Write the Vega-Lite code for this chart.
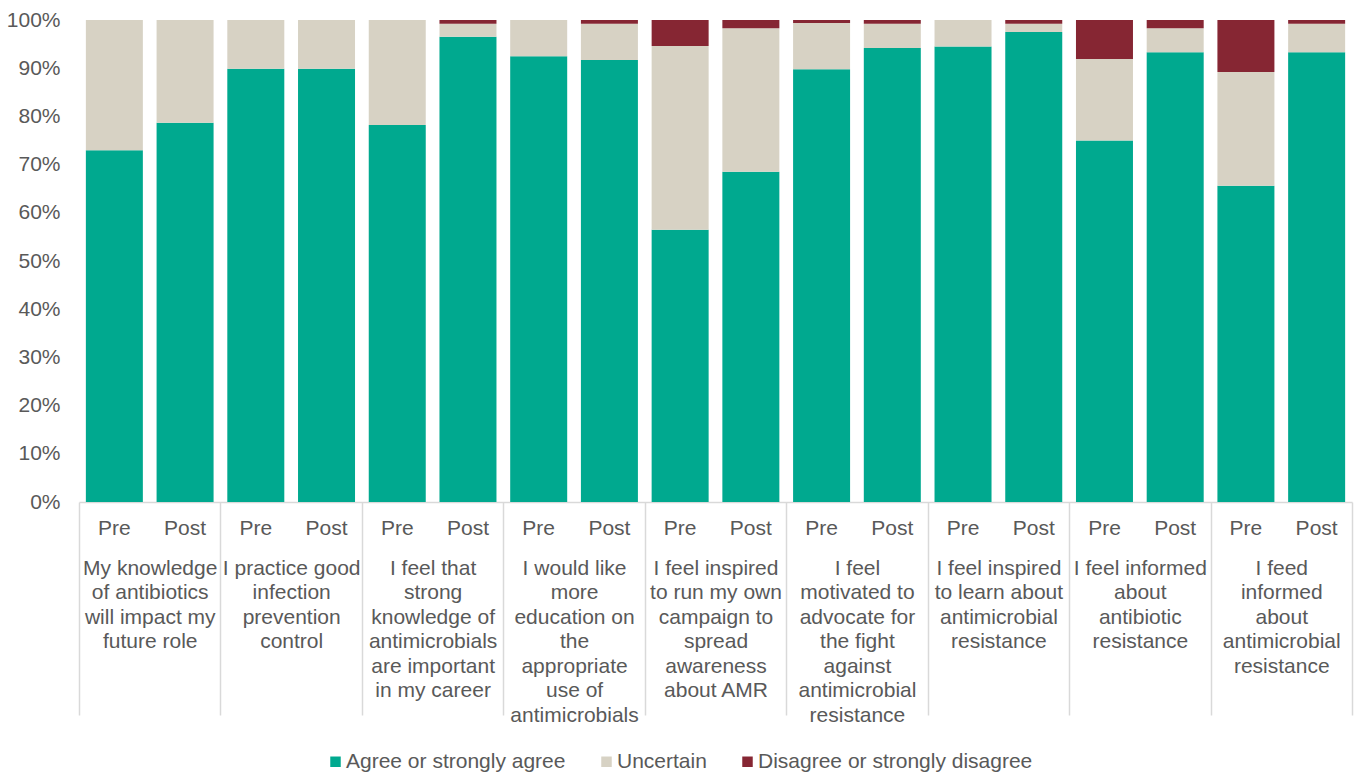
{
  "$schema": "https://vega.github.io/schema/vega-lite/v6.json",
  "width": 1273,
  "height": 482,
  "autosize": {"type": "none"},
  "padding": {"left": 79, "top": 20, "right": 5, "bottom": 272},
  "background": "white",
  "config": {
    "view": {"stroke": null},
    "font": "Liberation Sans"
  },
  "data": {
    "values": [
      {"statement": "My knowledge|of antibiotics|will impact my|future role", "period": "Pre", "response": "Agree or strongly agree", "percent": 73.0},
      {"statement": "My knowledge|of antibiotics|will impact my|future role", "period": "Pre", "response": "Uncertain", "percent": 27.0},
      {"statement": "My knowledge|of antibiotics|will impact my|future role", "period": "Pre", "response": "Disagree or strongly disagree", "percent": 0},
      {"statement": "My knowledge|of antibiotics|will impact my|future role", "period": "Post", "response": "Agree or strongly agree", "percent": 78.7},
      {"statement": "My knowledge|of antibiotics|will impact my|future role", "period": "Post", "response": "Uncertain", "percent": 21.3},
      {"statement": "My knowledge|of antibiotics|will impact my|future role", "period": "Post", "response": "Disagree or strongly disagree", "percent": 0},

      {"statement": "I practice good|infection|prevention|control", "period": "Pre", "response": "Agree or strongly agree", "percent": 89.9},
      {"statement": "I practice good|infection|prevention|control", "period": "Pre", "response": "Uncertain", "percent": 10.1},
      {"statement": "I practice good|infection|prevention|control", "period": "Pre", "response": "Disagree or strongly disagree", "percent": 0},
      {"statement": "I practice good|infection|prevention|control", "period": "Post", "response": "Agree or strongly agree", "percent": 89.9},
      {"statement": "I practice good|infection|prevention|control", "period": "Post", "response": "Uncertain", "percent": 10.1},
      {"statement": "I practice good|infection|prevention|control", "period": "Post", "response": "Disagree or strongly disagree", "percent": 0},

      {"statement": "I feel that|strong|knowledge of|antimicrobials|are important|in my career", "period": "Pre", "response": "Agree or strongly agree", "percent": 78.2},
      {"statement": "I feel that|strong|knowledge of|antimicrobials|are important|in my career", "period": "Pre", "response": "Uncertain", "percent": 21.8},
      {"statement": "I feel that|strong|knowledge of|antimicrobials|are important|in my career", "period": "Pre", "response": "Disagree or strongly disagree", "percent": 0},
      {"statement": "I feel that|strong|knowledge of|antimicrobials|are important|in my career", "period": "Post", "response": "Agree or strongly agree", "percent": 96.5},
      {"statement": "I feel that|strong|knowledge of|antimicrobials|are important|in my career", "period": "Post", "response": "Uncertain", "percent": 2.7},
      {"statement": "I feel that|strong|knowledge of|antimicrobials|are important|in my career", "period": "Post", "response": "Disagree or strongly disagree", "percent": 0.8},

      {"statement": "I would like|more|education on|the|appropriate|use of|antimicrobials", "period": "Pre", "response": "Agree or strongly agree", "percent": 92.5},
      {"statement": "I would like|more|education on|the|appropriate|use of|antimicrobials", "period": "Pre", "response": "Uncertain", "percent": 7.5},
      {"statement": "I would like|more|education on|the|appropriate|use of|antimicrobials", "period": "Pre", "response": "Disagree or strongly disagree", "percent": 0},
      {"statement": "I would like|more|education on|the|appropriate|use of|antimicrobials", "period": "Post", "response": "Agree or strongly agree", "percent": 91.7},
      {"statement": "I would like|more|education on|the|appropriate|use of|antimicrobials", "period": "Post", "response": "Uncertain", "percent": 7.5},
      {"statement": "I would like|more|education on|the|appropriate|use of|antimicrobials", "period": "Post", "response": "Disagree or strongly disagree", "percent": 0.8},

      {"statement": "I feel inspired|to run my own|campaign to|spread|awareness|about AMR", "period": "Pre", "response": "Agree or strongly agree", "percent": 56.5},
      {"statement": "I feel inspired|to run my own|campaign to|spread|awareness|about AMR", "period": "Pre", "response": "Uncertain", "percent": 38.1},
      {"statement": "I feel inspired|to run my own|campaign to|spread|awareness|about AMR", "period": "Pre", "response": "Disagree or strongly disagree", "percent": 5.4},
      {"statement": "I feel inspired|to run my own|campaign to|spread|awareness|about AMR", "period": "Post", "response": "Agree or strongly agree", "percent": 68.5},
      {"statement": "I feel inspired|to run my own|campaign to|spread|awareness|about AMR", "period": "Post", "response": "Uncertain", "percent": 29.8},
      {"statement": "I feel inspired|to run my own|campaign to|spread|awareness|about AMR", "period": "Post", "response": "Disagree or strongly disagree", "percent": 1.7},

      {"statement": "I feel|motivated to|advocate for|the fight|against|antimicrobial|resistance", "period": "Pre", "response": "Agree or strongly agree", "percent": 89.8},
      {"statement": "I feel|motivated to|advocate for|the fight|against|antimicrobial|resistance", "period": "Pre", "response": "Uncertain", "percent": 9.6},
      {"statement": "I feel|motivated to|advocate for|the fight|against|antimicrobial|resistance", "period": "Pre", "response": "Disagree or strongly disagree", "percent": 0.6},
      {"statement": "I feel|motivated to|advocate for|the fight|against|antimicrobial|resistance", "period": "Post", "response": "Agree or strongly agree", "percent": 94.2},
      {"statement": "I feel|motivated to|advocate for|the fight|against|antimicrobial|resistance", "period": "Post", "response": "Uncertain", "percent": 5.0},
      {"statement": "I feel|motivated to|advocate for|the fight|against|antimicrobial|resistance", "period": "Post", "response": "Disagree or strongly disagree", "percent": 0.8},

      {"statement": "I feel inspired|to learn about|antimicrobial|resistance", "period": "Pre", "response": "Agree or strongly agree", "percent": 94.5},
      {"statement": "I feel inspired|to learn about|antimicrobial|resistance", "period": "Pre", "response": "Uncertain", "percent": 5.5},
      {"statement": "I feel inspired|to learn about|antimicrobial|resistance", "period": "Pre", "response": "Disagree or strongly disagree", "percent": 0},
      {"statement": "I feel inspired|to learn about|antimicrobial|resistance", "period": "Post", "response": "Agree or strongly agree", "percent": 97.5},
      {"statement": "I feel inspired|to learn about|antimicrobial|resistance", "period": "Post", "response": "Uncertain", "percent": 1.7},
      {"statement": "I feel inspired|to learn about|antimicrobial|resistance", "period": "Post", "response": "Disagree or strongly disagree", "percent": 0.8},

      {"statement": "I feel informed|about|antibiotic|resistance", "period": "Pre", "response": "Agree or strongly agree", "percent": 75.0},
      {"statement": "I feel informed|about|antibiotic|resistance", "period": "Pre", "response": "Uncertain", "percent": 16.9},
      {"statement": "I feel informed|about|antibiotic|resistance", "period": "Pre", "response": "Disagree or strongly disagree", "percent": 8.1},
      {"statement": "I feel informed|about|antibiotic|resistance", "period": "Post", "response": "Agree or strongly agree", "percent": 93.3},
      {"statement": "I feel informed|about|antibiotic|resistance", "period": "Post", "response": "Uncertain", "percent": 5.0},
      {"statement": "I feel informed|about|antibiotic|resistance", "period": "Post", "response": "Disagree or strongly disagree", "percent": 1.7},

      {"statement": "I feed|informed|about|antimicrobial|resistance", "period": "Pre", "response": "Agree or strongly agree", "percent": 65.6},
      {"statement": "I feed|informed|about|antimicrobial|resistance", "period": "Pre", "response": "Uncertain", "percent": 23.6},
      {"statement": "I feed|informed|about|antimicrobial|resistance", "period": "Pre", "response": "Disagree or strongly disagree", "percent": 10.8},
      {"statement": "I feed|informed|about|antimicrobial|resistance", "period": "Post", "response": "Agree or strongly agree", "percent": 93.3},
      {"statement": "I feed|informed|about|antimicrobial|resistance", "period": "Post", "response": "Uncertain", "percent": 5.9},
      {"statement": "I feed|informed|about|antimicrobial|resistance", "period": "Post", "response": "Disagree or strongly disagree", "percent": 0.8}
    ]
  },
  "layer": [
    {
      "transform": [
        {"calculate": "indexof(['Agree or strongly agree', 'Uncertain', 'Disagree or strongly disagree'], datum.response)", "as": "stackRank"}
      ],
      "mark": {"type": "bar"},
      "encoding": {
        "x": {
          "field": "statement", "type": "nominal", "sort": null,
          "scale": {"paddingInner": 0, "paddingOuter": 0},
          "axis": {
            "title": null, "labelAngle": 0,
            "labelExpr": "split(datum.label, '|')",
            "labelFontSize": 21, "labelColor": "#595959", "labelLineHeight": 24.5,
            "labelBaseline": "top", "labelPadding": -158,
            "labelLimit": 0, "labelOverlap": false, "labelBound": false, "labelFlush": false,
            "tickBand": "extent", "tickSize": 213, "tickColor": "#d9d9d9", "tickWidth": 1.5,
            "domainColor": "#d9d9d9", "domainWidth": 1.5
          }
        },
        "xOffset": {
          "field": "period", "type": "nominal", "sort": ["Pre", "Post"],
          "scale": {"paddingInner": 0.194, "paddingOuter": 0.097}
        },
        "y": {
          "field": "percent", "type": "quantitative", "stack": "normalize",
          "axis": {
            "title": null, "format": ".0%",
            "values": [0, 0.1, 0.2, 0.3, 0.4, 0.5, 0.6, 0.7, 0.8, 0.9, 1],
            "ticks": false, "domain": false, "grid": false,
            "labelFontSize": 21, "labelColor": "#595959", "labelPadding": 19
          }
        },
        "order": {"field": "stackRank", "type": "quantitative", "sort": "ascending"},
        "color": {
          "field": "response", "type": "nominal",
          "sort": ["Agree or strongly agree", "Uncertain", "Disagree or strongly disagree"],
          "scale": {
            "domain": ["Agree or strongly agree", "Uncertain", "Disagree or strongly disagree"],
            "range": ["#00a98f", "#d7d2c4", "#862633"]
          },
          "legend": {
            "title": null, "orient": "none", "direction": "horizontal",
            "legendX": 246, "legendY": 731, "padding": 0,
            "symbolType": "square", "symbolSize": 110, "symbolStrokeWidth": 0,
            "labelFontSize": 21, "labelColor": "#595959", "labelLimit": 0, "labelOffset": 0,
            "columnPadding": 30
          }
        }
      }
    },
    {
      "transform": [{"filter": "datum.response === 'Agree or strongly agree'"}],
      "mark": {"type": "text", "dy": 27, "fontSize": 21, "color": "#595959", "baseline": "middle"},
      "encoding": {
        "x": {"field": "statement", "type": "nominal", "sort": null},
        "xOffset": {"field": "period", "type": "nominal", "sort": ["Pre", "Post"]},
        "y": {"datum": 0},
        "text": {"field": "period"}
      }
    }
  ]
}
